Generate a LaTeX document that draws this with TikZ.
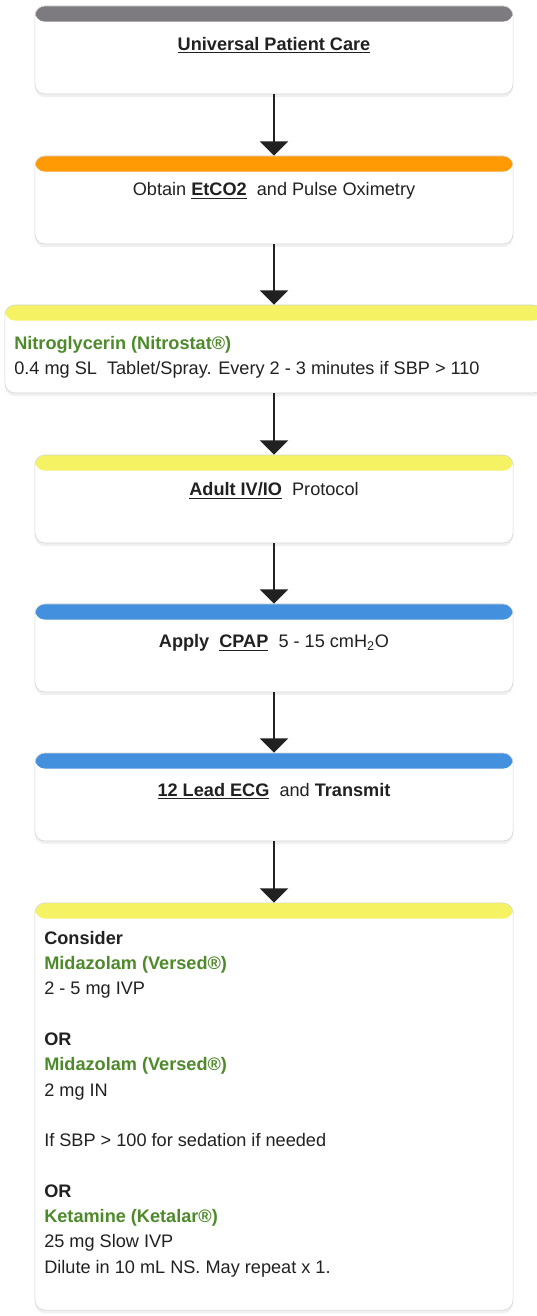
\documentclass[tikz,border=0pt]{standalone}
\usepackage{fontspec}
\setmainfont{Liberation Sans}
\usetikzlibrary{arrows.meta,shadows}
\definecolor{ink}{HTML}{212121}
\definecolor{edge}{HTML}{D4D4D4}
\definecolor{capgray}{HTML}{7D7B80}
\definecolor{caporange}{HTML}{FF9A05}
\definecolor{capyellow}{HTML}{F5F264}
\definecolor{capblue}{HTML}{4391DE}
\definecolor{druggreen}{HTML}{4E8A2B}
\newcommand{\twelve}{\fontsize{12.9}{18}\selectfont}
\newcommand{\keyterm}[1]{\textbf{\underline{#1}}}
\newcommand{\drug}[1]{\textcolor{druggreen}{\textbf{#1}}}
\tikzset{
 every node/.append style={font=\twelve,text=ink},
 card/.style={draw=edge,fill=white,rounded corners=.25cm,line width=.4pt,inner sep=0pt,
  minimum width=11.95cm,minimum height=2.2cm,
  drop shadow={opacity=.12,shadow xshift=0pt,shadow yshift=-.08cm},
  path picture={\fill[#1] (path picture bounding box.north west) rectangle ([yshift=-.39cm]path picture bounding box.north east);}},
 cardtext/.style={inner sep=0pt,align=center},
 listtext/.style={inner sep=0pt,align=left,anchor=west},
 flow/.style={-{Triangle[length=.36cm,width=.7cm]},draw=ink,line width=.07cm},
}

\begin{document}
\begin{tikzpicture}[x=.025cm,y=-.025cm]

\useasboundingbox (0,0) rectangle (537,1316);
\node[card=capgray] (care) at (274,50) {};
\node[card=caporange] (etco) at (274,200) {};
\node[card=capyellow,minimum width=13.45cm] (nitro) at (274,349) {};
\node[card=capyellow] (ivio) at (274,499) {};
\node[card=capblue] (cpap) at (274,648) {};
\node[card=capblue] (ecg) at (274,797) {};
\node[card=capyellow,minimum height=10.175cm] (sedate) at (274,1106.5) {};
\node[cardtext] (caretext) at (274,45) {\keyterm{Universal Patient Care}};
\node[cardtext] (etcotext) at (274,191) {Obtain \keyterm{EtCO2}\ \ and Pulse Oximetry};
\node[listtext] (nitrotext) at (14,357) {\drug{Nitroglycerin (Nitrostat®)}\\0.4 mg SL\ \ Tablet/Spray. Every 2 - 3 minutes if SBP > 110};
\node[cardtext] (iviotext) at (274,491) {\keyterm{Adult IV/IO}\ \ Protocol};
\node[cardtext] (cpaptext) at (274,643) {\textbf{Apply}\ \ \keyterm{CPAP}\ \ 5 - 15 cmH\textsubscript{2}O};
\node[cardtext] (ecgtext) at (274,791) {\keyterm{12 Lead ECG}\ \ and \textbf{Transmit}};
\node[listtext] (sedatetext) at (44,1104) {\textbf{Consider}\\\drug{Midazolam (Versed®)}\\2 - 5 mg IVP\\[18pt]\textbf{OR}\\\drug{Midazolam (Versed®)}\\2 mg IN\\[18pt]If SBP > 100 for sedation if needed\\[18pt]\textbf{OR}\\\drug{Ketamine (Ketalar®)}\\25 mg Slow IVP\\Dilute in 10 mL NS. May repeat x 1.};
\draw[flow] (care) -- (etco);
\draw[flow] (etco) -- (nitro);
\draw[flow] (nitro) -- (ivio);
\draw[flow] (ivio) -- (cpap);
\draw[flow] (cpap) -- (ecg);
\draw[flow] (ecg) -- (sedate);

\end{tikzpicture}
\end{document}
